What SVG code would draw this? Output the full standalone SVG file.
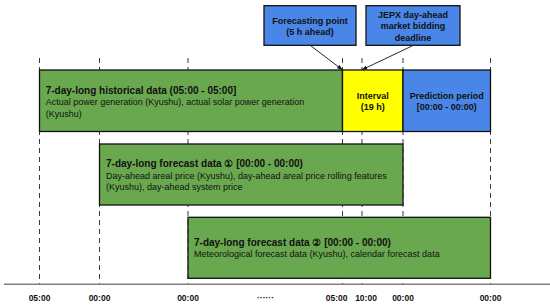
<svg xmlns="http://www.w3.org/2000/svg" width="550" height="305" viewBox="0 0 550 305">
<style>
.dash{stroke:#222;stroke-width:0.9;stroke-dasharray:5,4;fill:none}
.box{stroke:#111;stroke-width:1.3}
.g{fill:#6aa84f}.b{fill:#4a86e8}.y{fill:#ffff00}
text{font-family:"Liberation Sans",Arial,sans-serif;fill:#111}
.t{font-size:10px;font-weight:bold}
.s{font-size:9px}
.c{font-size:9px;font-weight:bold;text-anchor:middle}
.ax{font-size:8.5px;font-weight:bold;text-anchor:middle}
.arr{stroke:#111;stroke-width:0.9;fill:none}
</style>
<defs>
<marker id="ah" viewBox="0 0 10 10" refX="9" refY="5" markerWidth="6" markerHeight="6" orient="auto">
<path d="M0,1 L10,5 L0,9 z" fill="#111"/>
</marker>
</defs>
<g id="grid">
<line class="dash" x1="39.5" y1="58" x2="39.5" y2="284"/>
<line class="dash" x1="99.5" y1="58" x2="99.5" y2="284"/>
<line class="dash" x1="188" y1="58" x2="188" y2="284"/>
<line class="dash" x1="342.5" y1="58" x2="342.5" y2="284"/>
<line class="dash" x1="362" y1="58" x2="362" y2="284"/>
<line class="dash" x1="403" y1="58" x2="403" y2="284"/>
<line class="dash" x1="490.5" y1="58" x2="490.5" y2="284"/>
</g>
<g id="axis">
<line x1="4" y1="284.3" x2="550" y2="284.3" stroke="#808080" stroke-width="1.5"/>
<text class="ax" x="39.5" y="300.5">05:00</text>
<text class="ax" x="99.5" y="300.5">00:00</text>
<text class="ax" x="188" y="300.5">00:00</text>
<text class="ax" x="265.5" y="300.5">······</text>
<text class="ax" x="336.7" y="300.5">05:00</text>
<text class="ax" x="366" y="300.5">10:00</text>
<text class="ax" x="403" y="300.5">00:00</text>
<text class="ax" x="490.5" y="300.5">00:00</text>
</g>
<g id="historical">
<rect class="box g" x="39.5" y="70" width="303" height="61.5"/>
<text class="t" x="45.7" y="93.5">7-day-long historical data (05:00 - 05:00]</text>
<text class="s" x="45.7" y="104.8">Actual power generation (Kyushu), actual solar power generation</text>
<text class="s" x="45.7" y="117">(Kyushu)</text>
</g>
<g id="interval">
<rect class="box y" x="342.5" y="70" width="60.5" height="61.5"/>
<text class="c" x="372.8" y="98.8">Interval</text>
<text class="c" x="372.8" y="110.4">(19 h)</text>
</g>
<g id="prediction">
<rect class="box b" x="403" y="70" width="87.5" height="61.5"/>
<text class="c" x="446.8" y="98.8">Prediction period</text>
<text class="c" x="446.8" y="110.4">[00:00 - 00:00)</text>
</g>
<g id="forecast1">
<rect class="box g" x="99.5" y="144" width="303.5" height="61"/>
<text class="t" x="106" y="166.8">7-day-long forecast data ① [00:00 - 00:00)</text>
<text class="s" x="106" y="178.8">Day-ahead areal price (Kyushu), day-ahead areal price rolling features</text>
<text class="s" x="106" y="190.4">(Kyushu), day-ahead system price</text>
</g>
<g id="forecast2">
<rect class="box g" x="188" y="217.3" width="302.5" height="61"/>
<text class="t" x="194" y="246.2">7-day-long forecast data ② [00:00 - 00:00)</text>
<text class="s" x="194" y="257.2">Meteorological forecast data (Kyushu), calendar forecast data</text>
</g>
<g id="forecasting-point">
<rect class="box b" x="264" y="5.7" width="92" height="39.6"/>
<text class="c" x="310" y="23.8">Forecasting point</text>
<text class="c" x="310" y="35.4">(5 h ahead)</text>
</g>
<g id="jepx">
<rect class="box b" x="366" y="5.7" width="94" height="39.6"/>
<text class="c" x="413" y="18.1">JEPX day-ahead</text>
<text class="c" x="413" y="29.4">market bidding</text>
<text class="c" x="413" y="40.8">deadline</text>
</g>
<g id="connectors">
<line class="arr" x1="310.7" y1="45.7" x2="342" y2="69.5" marker-end="url(#ah)"/>
<line class="arr" x1="412" y1="46" x2="362.5" y2="69.5" marker-end="url(#ah)"/>
</g>
</svg>
